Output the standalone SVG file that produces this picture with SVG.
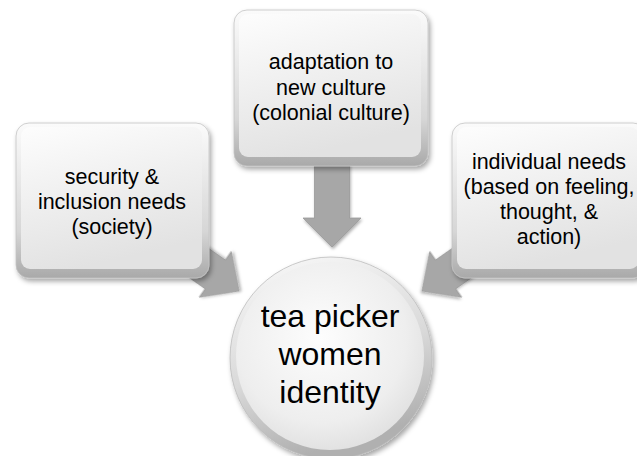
<svg xmlns="http://www.w3.org/2000/svg" width="637" height="456" viewBox="0 0 637 456">
  <defs>
    <linearGradient id="edge" x1="0" y1="0" x2="0" y2="1">
      <stop offset="0" stop-color="#fbfbfb"/>
      <stop offset="0.7" stop-color="#d6d6d6"/>
      <stop offset="1" stop-color="#a9a9a9"/>
    </linearGradient>
    <linearGradient id="face" x1="0" y1="0" x2="0.3" y2="1">
      <stop offset="0" stop-color="#fdfdfd"/>
      <stop offset="1" stop-color="#e2e2e2"/>
    </linearGradient>
    <radialGradient id="cface" cx="0.45" cy="0.4" r="0.65">
      <stop offset="0" stop-color="#fdfdfd"/>
      <stop offset="0.7" stop-color="#eeeeee"/>
      <stop offset="1" stop-color="#dedede"/>
    </radialGradient>
    <linearGradient id="cedge" x1="0" y1="0" x2="0.3" y2="1">
      <stop offset="0" stop-color="#fafafa"/>
      <stop offset="0.6" stop-color="#d9d9d9"/>
      <stop offset="1" stop-color="#b0b0b0"/>
    </linearGradient>
    <filter id="sh" x="-20%" y="-20%" width="140%" height="140%">
      <feDropShadow dx="2" dy="3" stdDeviation="2.5" flood-color="#000" flood-opacity="0.35"/>
    </filter>
    <filter id="ash" x="-30%" y="-30%" width="160%" height="160%">
      <feDropShadow dx="1" dy="2" stdDeviation="1.5" flood-color="#000" flood-opacity="0.3"/>
    </filter>
  </defs>
  <style>
    .edge { fill: url(#edge); stroke: #c4c4c4; stroke-width: 0.8; }
    .face { fill: url(#face); }
    .lbl { font-family: "Liberation Sans", Arial, sans-serif; font-size: 21.5px; fill: #000; text-anchor: middle; }
    .big { font-family: "Liberation Sans", Arial, sans-serif; font-size: 32px; fill: #000; text-anchor: middle; }
    .arrow { fill: #a7a7a7; stroke: #999999; stroke-width: 0.8; stroke-linejoin: round; }
  </style>

  <g id="connectors">
    <polygon class="arrow" filter="url(#ash)" transform="translate(332,247)" points="-17.5,-83 17.5,-83 17.5,-29 29,-29 0,0 -29,-29 -17.5,-29"/>
    <polygon class="arrow" filter="url(#ash)" transform="translate(239,291) rotate(-55)" points="-17.5,-80 17.5,-80 17.5,-29 28,-29 0,0 -28,-29 -17.5,-29"/>
    <polygon class="arrow" filter="url(#ash)" transform="translate(422,291) rotate(55)" points="-17.5,-80 17.5,-80 17.5,-29 28,-29 0,0 -28,-29 -17.5,-29"/>
  </g>

  <g id="node-top">
    <rect class="edge" filter="url(#sh)" x="234" y="10" width="194" height="156" rx="13"/>
    <rect class="face" x="239" y="14" width="182" height="143" rx="9"/>
    <text class="lbl" x="331" y="69">adaptation to</text>
    <text class="lbl" x="331" y="95">new culture</text>
    <text class="lbl" x="331" y="120">(colonial culture)</text>
  </g>

  <g id="node-left">
    <rect class="edge" filter="url(#sh)" x="16" y="123" width="193" height="155" rx="13"/>
    <rect class="face" x="21" y="127" width="181" height="142" rx="9"/>
    <text class="lbl" x="112" y="184">security &amp;</text>
    <text class="lbl" x="112" y="209">inclusion needs</text>
    <text class="lbl" x="112" y="234">(society)</text>
  </g>

  <g id="node-right">
    <rect class="edge" filter="url(#sh)" x="452" y="123" width="194" height="155" rx="13"/>
    <rect class="face" x="457" y="127" width="182" height="142" rx="9"/>
    <text class="lbl" x="549" y="169">individual needs</text>
    <text class="lbl" x="549" y="194">(based on feeling,</text>
    <text class="lbl" x="549" y="219">thought, &amp;</text>
    <text class="lbl" x="549" y="244">action)</text>
  </g>

  <g id="node-center">
    <circle cx="331" cy="358" r="101" fill="url(#cedge)" stroke="#bdbdbd" stroke-width="0.8" filter="url(#sh)"/>
    <circle cx="330" cy="356" r="94" fill="url(#cface)"/>
    <text class="big" x="330" y="327">tea picker</text>
    <text class="big" x="330" y="365">women</text>
    <text class="big" x="330" y="403">identity</text>
  </g>
</svg>
